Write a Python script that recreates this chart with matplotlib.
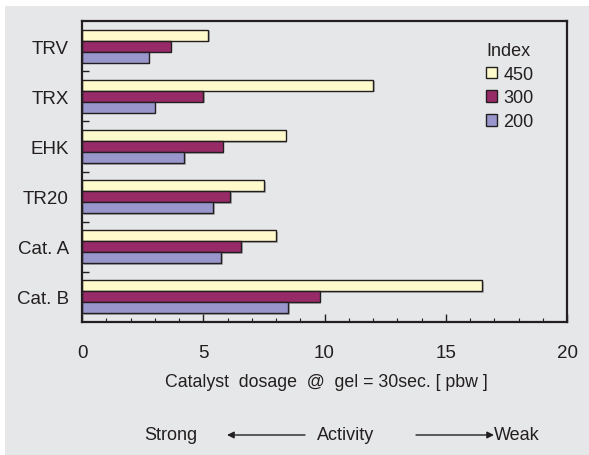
import matplotlib
matplotlib.use("Agg")
import matplotlib.pyplot as plt
import numpy as np
from matplotlib.patches import Rectangle, FancyArrowPatch
from matplotlib.ticker import MultipleLocator, FixedLocator
import matplotlib.patheffects as pe

plt.rcParams['font.family'] = ['Liberation Sans', 'DejaVu Sans']

# Catalysts, listed top to bottom
catalysts = ["TRV", "TRX", "EHK", "TR20", "Cat. A", "Cat. B"]
index_labels = ["450", "300", "200"]
dosage_450 = [5.2, 12.0, 8.4, 7.5, 8.0, 16.5]
dosage_300 = [3.65, 5.0, 5.8, 6.1, 6.55, 9.8]
dosage_200 = [2.75, 3.0, 4.2, 5.4, 5.75, 8.5]
x_ticks = [0, 5, 10, 15, 20]

series = [dosage_450, dosage_300, dosage_200]
colors = ["#FFFACC", "#962B68", "#9996CB"]
edge = "#231F20"
bg = "#E6E7E8"

W, H = 589, 456
fig = plt.figure(figsize=(W / 100, H / 100), dpi=100, facecolor="white")
fig.patches.append(Rectangle((5 / W, 0), 1, (H - 7) / H, transform=fig.transFigure,
                             facecolor=bg, edgecolor="none", zorder=-10))

ax = fig.add_axes([82 / W, 1 - 323 / H, (567 - 82) / W, (323 - 22) / H])
ax.set_facecolor(bg)

y = np.arange(len(catalysts))
bar_h = 0.22
offsets = [-bar_h, 0.0, bar_h]
shadow = [pe.SimplePatchShadow(offset=(1.2, -1.2), shadow_rgbFace="#8a8a8a", alpha=0.6),
          pe.Normal()]
for vals, off, col, lab in zip(series, offsets, colors, index_labels):
    bars = ax.barh(y + off, vals, height=bar_h, color=col, edgecolor=edge,
                   linewidth=1.0, label=lab)
    for b in bars:
        b.set_path_effects(shadow)

ax.set_xlim(0, 20)
ax.set_ylim(len(catalysts) - 0.5, -0.5)

ax.xaxis.set_major_locator(FixedLocator(x_ticks))
ax.xaxis.set_minor_locator(MultipleLocator(1))
ax.set_xticklabels([str(t) for t in x_ticks])
ax.tick_params(axis="x", which="major", direction="in", length=6, width=1.0,
               color=edge, pad=15.5, labelsize=13.5, labelcolor="#231F20")
ax.tick_params(axis="x", which="minor", direction="in", length=3, width=0.8, color=edge)

ax.set_yticks(y)
ax.set_yticklabels(catalysts)
ax.yaxis.set_minor_locator(FixedLocator(y[:-1] + 0.5))
ax.tick_params(axis="y", which="major", length=0, pad=9.5, labelsize=13.5,
               labelcolor="#231F20")
ax.tick_params(axis="y", which="minor", direction="in", length=5, width=1.0, color=edge)

for s in ax.spines.values():
    s.set_linewidth(1.6)
    s.set_color(edge)

leg = ax.legend(title="Index", loc="upper left", bbox_to_anchor=(395 / 485, 1 - 12 / 301),
                frameon=False, fontsize=13, title_fontsize=13,
                handlelength=0.62, handleheight=0.62, handletextpad=0.35,
                labelspacing=0.37, borderpad=0, alignment="left")
for t in leg.get_texts():
    t.set_color("#231F20")
leg.get_title().set_color("#231F20")
for h in leg.legend_handles:
    h.set_path_effects([])

fig.text(326 / W, 1 - 383 / H, "Catalyst  dosage  @  gel = 30sec. [ pbw ]",
         ha="center", va="center", fontsize=12.8, color="#231F20")

row_y = 1 - 436 / H
fig.text(144 / W, row_y, "Strong", ha="left", va="center", fontsize=13, color="#231F20")
fig.text(317 / W, row_y, "Activity", ha="left", va="center", fontsize=13, color="#231F20")
fig.text(494 / W, row_y, "Weak", ha="left", va="center", fontsize=13, color="#231F20")
arrow = dict(arrowstyle="-|>", color="#231F20", lw=1.0, mutation_scale=10,
             shrinkA=0, shrinkB=0)
fig.add_artist(FancyArrowPatch((305 / W, row_y), (227 / W, row_y),
                               transform=fig.transFigure, **arrow))
fig.add_artist(FancyArrowPatch((416 / W, row_y), (494 / W, row_y),
                               transform=fig.transFigure, **arrow))

fig.savefig("out.png", dpi=100, facecolor="white")
